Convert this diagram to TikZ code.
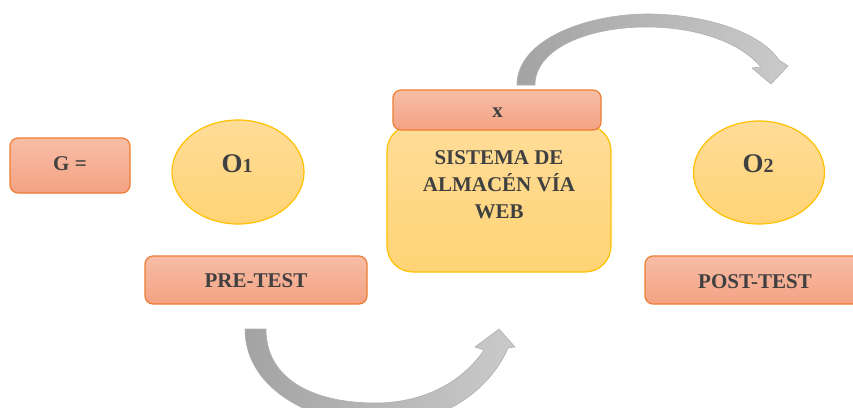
\documentclass[tikz,border=0pt]{standalone}
\usepackage{fontspec}
\setmainfont{Liberation Serif}
\usetikzlibrary{shapes.geometric}
\definecolor{txtc}{HTML}{404040}
\definecolor{orgtop}{HTML}{F7BDA6}
\definecolor{orgbot}{HTML}{F4A283}
\definecolor{orgline}{HTML}{ED7D31}
\definecolor{yeltop}{HTML}{FFDC98}
\definecolor{yelbot}{HTML}{FFD475}
\definecolor{yelline}{HTML}{FFC000}
\definecolor{arrdark}{HTML}{A3A3A3}
\definecolor{arrlight}{HTML}{CACACA}
\definecolor{arrline}{HTML}{B0B0B0}
\tikzset{
  orangebox/.style={draw=orgline, line width=1.2pt, rounded corners=8pt, top color=orgtop, bottom color=orgbot, inner sep=0pt},
  yellowbox/.style={draw=yelline, line width=1.2pt, rounded corners=26pt, top color=yeltop, bottom color=yelbot, inner sep=0pt},
  yellowell/.style={ellipse, draw=yelline, line width=1.2pt, top color=yeltop, bottom color=yelbot, inner sep=0pt},
  lbl/.style={text=txtc, font=\fontsize{21}{27}\selectfont\bfseries, inner sep=0pt},
  bigo/.style={text=txtc, font=\fontsize{27}{30}\selectfont\bfseries, inner sep=0pt},
  curvarrow/.style={draw=arrline, line width=0.6pt, left color=arrdark, right color=arrlight}
}
\begin{document}
\begin{tikzpicture}[x=1pt,y=-1pt]
\clip (0,0) rectangle (853,407);
\useasboundingbox (0,0) rectangle (853,407);
% curved arrows
\path[curvarrow] (517,85) .. controls (517,38) and (590,14) .. (647,14)
  .. controls (705,14) and (760,32) .. (779,60) -- (788,66) -- (771,84) -- (752,68) -- (761,67)
  .. controls (738,40) and (692,27) .. (647,27)
  .. controls (585,27) and (535,50) .. (535,85) -- cycle;
\path[curvarrow] (245,329) .. controls (245,392) and (318,425) .. (380,425)
  .. controls (442,425) and (490,390) .. (508,348) -- (515,347) -- (499,329) -- (475,347) -- (484,350)
  .. controls (460,385) and (420,403) .. (375,403)
  .. controls (318,403) and (266,382) .. (266,329) -- cycle;
% boxes
\node[orangebox, minimum width=120pt, minimum height=55pt] (g) at (70,165.5) {};
\node[lbl, anchor=base] (gt) at (70,170) {G =};
\node[yellowell, minimum width=132pt, minimum height=104pt] (o1) at (238,172) {};
\node[bigo, anchor=base] (o1t) at (237,172) {O{\fontsize{20}{20}\selectfont 1}};
\node[orangebox, minimum width=222pt, minimum height=48pt] (pre) at (256,280) {};
\node[lbl, anchor=base] (pret) at (256,287) {PRE-TEST};
\node[yellowbox, minimum width=224pt, minimum height=147pt] (sis) at (499,198.5) {};
\node[orangebox, minimum width=208pt, minimum height=40pt] (x) at (497,110) {};
\node[lbl, anchor=base] (xt) at (497.5,117) {x};
\node[lbl, align=center, anchor=north] (sist) at (499,150) {SISTEMA DE\\ALMACÉN VÍA\\WEB};
\node[yellowell, minimum width=131pt, minimum height=103pt] (o2) at (759,172.5) {};
\node[bigo, anchor=base] (o2t) at (758,172) {O{\fontsize{20}{20}\selectfont 2}};
\node[orangebox, minimum width=220pt, minimum height=48pt] (post) at (755,280) {};
\node[lbl, anchor=base] (postt) at (755,288) {POST-TEST};
\end{tikzpicture}
\end{document}
